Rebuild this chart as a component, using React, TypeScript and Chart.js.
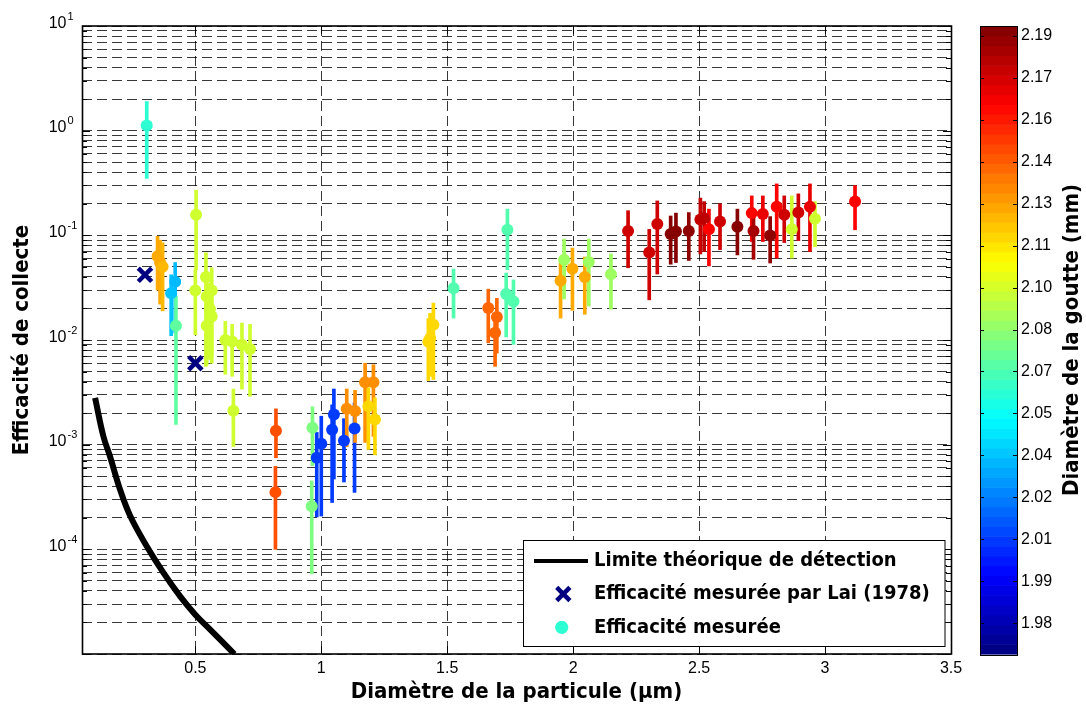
import React, { useEffect, useRef } from 'react';
import { Chart, registerables } from 'chart.js';

Chart.register(...registerables);

// ---------- data ----------
const ptX = [0.307, 0.350, 0.360, 0.370, 0.404, 0.420, 0.423, 0.503, 0.500, 0.542, 0.565, 0.545, 0.558, 0.565, 0.545, 0.619, 0.646, 0.685, 0.717, 0.651,
  0.820, 0.818, 0.965, 0.962, 0.982, 1.000, 1.043, 1.050, 1.090, 1.132, 1.101, 1.134, 1.174, 1.207, 1.187, 1.213,
  1.445, 1.432, 1.425, 1.525, 1.663, 1.697, 1.690, 1.739, 1.734, 1.763, 1.950, 1.997, 2.046, 1.964, 2.062, 2.150,
  2.218, 2.302, 2.334, 2.387, 2.408, 2.459, 2.505, 2.520, 2.539, 2.583, 2.652, 2.709, 2.716, 2.753, 2.782, 2.808,
  2.838, 2.868, 2.894, 2.940, 2.960, 3.119];
const ptY = [1.12, 0.063, 0.055, 0.050, 0.028, 0.036, 0.0137, 0.157, 0.0297, 0.040, 0.0297, 0.026, 0.0198, 0.0168, 0.0137, 0.0100, 0.0097, 0.0090, 0.0082, 0.00211,
  0.00136, 0.000352, 0.00145, 0.000258, 0.00075, 0.00102, 0.00139, 0.00194, 0.00109, 0.00143, 0.0022, 0.0021, 0.00394, 0.00394, 0.00233, 0.00174,
  0.0140, 0.0104, 0.0096, 0.0313, 0.0202, 0.0166, 0.0117, 0.113, 0.0275, 0.0233, 0.0368, 0.0479, 0.0399, 0.0584, 0.0555, 0.0425,
  0.110, 0.0686, 0.128, 0.103, 0.109, 0.110, 0.142, 0.146, 0.1146, 0.1355, 0.121, 0.163, 0.110, 0.160, 0.0995, 0.188,
  0.157, 0.1146, 0.165, 0.188, 0.144, 0.210];
const ptLo = [0.35, 0.030, 0.022, 0.019, 0.011, 0.0117, 0.00156, 0.047, 0.0112, 0.0056, 0.0070, 0.008, 0.0065, 0.006, 0.0058, 0.0047, 0.0045, 0.0034, 0.0029, 0.00096,
  0.00075, 0.0001, 0.00063, 0.0000585, 0.000204, 0.000208, 0.00028, 0.00047, 0.00044, 0.00035, 0.00096, 0.00105, 0.00105, 0.0012, 0.0009, 0.0008,
  0.0042, 0.0045, 0.0041, 0.0162, 0.0094, 0.0075, 0.0056, 0.047, 0.0107, 0.0091, 0.0162, 0.0192, 0.0176, 0.0246, 0.0211, 0.0197,
  0.049, 0.0242, 0.0427, 0.053, 0.055, 0.0575, 0.0664, 0.070, 0.051, 0.073, 0.065, 0.0873, 0.059, 0.0873, 0.0544, 0.0606,
  0.0853, 0.0606, 0.089, 0.070, 0.078, 0.113];
const ptHi = [1.9, 0.098, 0.090, 0.085, 0.042, 0.055, 0.026, 0.27, 0.047, 0.068, 0.049, 0.045, 0.035, 0.030, 0.022, 0.0151, 0.0141, 0.0145, 0.0141, 0.0034,
  0.0022, 0.00062, 0.0023, 0.00045, 0.00131, 0.00187, 0.0024, 0.0034, 0.00177, 0.0025, 0.0034, 0.0033, 0.0060, 0.0058, 0.0035, 0.0028,
  0.0225, 0.018, 0.016, 0.0476, 0.0306, 0.025, 0.018, 0.178, 0.0436, 0.0375, 0.0571, 0.0755, 0.062, 0.092, 0.092, 0.0665,
  0.172, 0.114, 0.213, 0.153, 0.163, 0.165, 0.227, 0.21, 0.178, 0.20, 0.178, 0.238, 0.163, 0.238, 0.151, 0.310,
  0.238, 0.238, 0.249, 0.310, 0.21, 0.299];
// droplet diameter (mm) of each measurement -> colour
const ptD = [2.063, 2.128, 2.128, 2.125, 2.040, 2.038, 2.074, 2.099, 2.099, 2.099, 2.099, 2.099, 2.099, 2.099, 2.099, 2.099, 2.099, 2.099, 2.099, 2.099,
  2.148, 2.148, 2.081, 2.081, 2.010, 2.010, 2.010, 2.010, 2.010, 2.010, 2.134, 2.134, 2.134, 2.134, 2.118, 2.118,
  2.118, 2.118, 2.118, 2.071, 2.143, 2.143, 2.143, 2.071, 2.071, 2.071, 2.128, 2.128, 2.128, 2.088, 2.088, 2.088,
  2.176, 2.176, 2.176, 2.192, 2.192, 2.190, 2.178, 2.180, 2.165, 2.176, 2.192, 2.165, 2.185, 2.170, 2.190, 2.165,
  2.176, 2.099, 2.176, 2.170, 2.099, 2.165];

const laiX = [0.30, 0.50];
const laiY = [0.042, 0.0060];

const limitX = [0.102, 0.135, 0.161, 0.201, 0.242, 0.307, 0.373, 0.439, 0.499, 0.558, 0.655];
const limitY = [2.8e-3, 1.2e-3, 7.75e-4, 3.73e-4, 2.07e-4, 1.07e-4, 5.98e-5, 3.57e-5, 2.39e-5, 1.72e-5, 1.0e-5];

const xTicks = [0.5, 1, 1.5, 2, 2.5, 3, 3.5];
const xTickLabels = ['0.5', '1', '1.5', '2', '2.5', '3', '3.5'];
const yDecades = [1e-5, 1e-4, 1e-3, 1e-2, 1e-1, 1];
const yMantissas = [1, 2, 3, 4, 5, 6, 7, 8, 9];
const yLabelValues = [10, 1, 0.1, 0.01, 0.001, 0.0001];
const yLabelExps = ['1', '0', '-1', '-2', '-3', '-4'];
const cbTicks = [1.98, 1.995, 2.01, 2.025, 2.04, 2.055, 2.07, 2.085, 2.10, 2.115, 2.13, 2.145, 2.16, 2.175, 2.19];
const cbLabels = ['1.98', '1.99', '2.01', '2.02', '2.04', '2.05', '2.07', '2.08', '2.10', '2.11', '2.13', '2.14', '2.16', '2.17', '2.19'];
const C_MIN = 1.969;
const C_MAX = 2.1935;

// ---------- helpers ----------
const yTickValues: number[] = [];
yDecades.forEach((d) => yMantissas.forEach((m) => yTickValues.push(m * d)));
yTickValues.push(10);

function jet(t: number): string {
  const c = (v: number) => Math.max(0, Math.min(1, v));
  const r = c(Math.min(4 * t - 1.5, -4 * t + 4.5));
  const g = c(Math.min(4 * t - 0.5, -4 * t + 3.5));
  const b = c(Math.min(4 * t + 0.5, -4 * t + 2.5));
  return `rgb(${Math.round(r * 255)},${Math.round(g * 255)},${Math.round(b * 255)})`;
}
const colorFor = (d: number) => jet((d - C_MIN) / (C_MAX - C_MIN));
const ptColors = ptD.map(colorFor);

const TICK_FONT = '"Liberation Sans", Arial, sans-serif';
const TITLE_FONT = '"DejaVu Sans Condensed", "DejaVu Sans", sans-serif';
const GRID = 'rgba(0,0,0,0.78)';
const DASH = [10, 5];

const isDecade = (v: number) => Math.abs(Math.log10(v) - Math.round(Math.log10(v))) < 1e-6;

const overlayPlugin = {
  id: 'overlay',
  afterDraw(chart: any) {
    const { ctx, chartArea: a, scales } = chart;
    const ys = scales.y;
    const xs = scales.x;
    const cs = scales.cb;
    const seg = (x1: number, y1: number, x2: number, y2: number) => {
      ctx.beginPath();
      ctx.moveTo(x1, y1);
      ctx.lineTo(x2, y2);
      ctx.stroke();
    };
    ctx.save();
    ctx.setLineDash([]);
    ctx.strokeStyle = '#000';
    ctx.lineWidth = 1;
    // inward tick marks
    yTickValues.forEach((v) => {
      const y = Math.round(ys.getPixelForValue(v)) + 0.5;
      const len = isDecade(v) ? 8 : 5;
      seg(a.left, y, a.left + len, y);
      seg(a.right - len, y, a.right, y);
    });
    xTicks.forEach((v) => {
      const x = Math.round(xs.getPixelForValue(v)) + 0.5;
      seg(x, a.bottom, x, a.bottom - 8);
      seg(x, a.top, x, a.top + 8);
    });
    // frame
    ctx.lineWidth = 1.6;
    ctx.strokeRect(a.left + 0.5, a.top, a.right - a.left, a.bottom - a.top);

    // y tick labels 10^n
    ctx.fillStyle = '#000';
    yLabelValues.forEach((v, i) => {
      const y = ys.getPixelForValue(v);
      ctx.font = `16px ${TICK_FONT}`;
      ctx.textAlign = 'right';
      ctx.textBaseline = 'alphabetic';
      ctx.fillText('10', 66.5, y + 1.5);
      ctx.font = `11px ${TICK_FONT}`;
      ctx.textAlign = 'left';
      ctx.fillText(yLabelExps[i], 67.5, y - 6.5);
    });

    // colour bar
    const cbL = 980;
    const cbR = 1017;
    const nb = 64;
    for (let i = 0; i < nb; i++) {
      const v0 = cs.min + (i * (cs.max - cs.min)) / nb;
      const v1 = cs.min + ((i + 1) * (cs.max - cs.min)) / nb;
      const yA = cs.getPixelForValue(v1);
      const yB = cs.getPixelForValue(v0);
      ctx.fillStyle = jet((i + 0.5) / nb);
      ctx.fillRect(cbL, yA, cbR - cbL, yB - yA + 0.6);
    }
    ctx.strokeStyle = '#000';
    ctx.lineWidth = 1;
    cbTicks.forEach((v) => {
      const y = Math.round(cs.getPixelForValue(v)) + 0.5;
      seg(cbL, y, cbL + 4, y);
      seg(cbR - 4, y, cbR, y);
    });
    ctx.strokeRect(cbL + 0.5, a.top + 0.5, cbR - cbL, a.bottom - a.top + 1);

    // colour bar title
    ctx.save();
    ctx.translate(1072, (a.top + a.bottom) / 2);
    ctx.rotate(-Math.PI / 2);
    ctx.fillStyle = '#000';
    ctx.font = `bold 22px ${TITLE_FONT}`;
    ctx.textAlign = 'center';
    ctx.textBaseline = 'middle';
    ctx.fillText('Diamètre de la goutte (mm)', 0, 0);
    ctx.restore();

    // legend
    const lx = 523.5;
    const ly = 540.5;
    const lw = 421.5;
    const lh = 106;
    ctx.fillStyle = '#fff';
    ctx.fillRect(lx, ly, lw, lh);
    ctx.strokeStyle = '#000';
    ctx.lineWidth = 1;
    ctx.strokeRect(lx, ly, lw, lh);
    const rows = [561, 594, 627.3];
    ctx.lineWidth = 4;
    seg(534, rows[0], 588, rows[0]);
    ctx.strokeStyle = '#000080';
    ctx.lineWidth = 4.5;
    seg(563.3 - 6.6, rows[1] - 6.6, 563.3 + 6.6, rows[1] + 6.6);
    seg(563.3 - 6.6, rows[1] + 6.6, 563.3 + 6.6, rows[1] - 6.6);
    ctx.fillStyle = ptColors[0];
    ctx.beginPath();
    ctx.arc(561.7, rows[2], 6.6, 0, Math.PI * 2);
    ctx.fill();
    ctx.fillStyle = '#000';
    ctx.font = `bold 20px ${TITLE_FONT}`;
    ctx.textAlign = 'left';
    ctx.textBaseline = 'middle';
    ctx.fillText('Limite théorique de détection', 594, rows[0]);
    ctx.fillText('Efficacité mesurée par Lai (1978)', 594, rows[1]);
    ctx.fillText('Efficacité mesurée', 594, rows[2]);
    ctx.restore();
  },
};

export default function App() {
  const ref = useRef<HTMLCanvasElement>(null);
  useEffect(() => {
    const canvas = ref.current;
    if (!canvas) return;
    const chart = new Chart(canvas, {
      type: 'scatter',
      data: {
        datasets: [
          {
            type: 'line',
            label: 'Limite théorique de détection',
            data: limitX.map((x, i) => ({ x, y: limitY[i] })),
            borderColor: '#000',
            backgroundColor: '#000',
            borderWidth: 6,
            pointRadius: 0,
            tension: 0.4,
            fill: false,
            clip: 0,
            order: 1,
          },
          {
            type: 'scatter',
            label: 'Efficacité mesurée par Lai (1978)',
            data: laiX.map((x, i) => ({ x, y: laiY[i] })),
            pointStyle: 'crossRot',
            pointRadius: 9.5,
            borderWidth: 4.5,
            borderColor: '#000080',
            backgroundColor: '#000080',
            order: 0,
          },
          {
            type: 'scatter',
            label: 'Efficacité mesurée',
            data: ptX.map((x, i) => ({ x, y: ptY[i] })),
            pointRadius: 6,
            pointBackgroundColor: ptColors,
            backgroundColor: ptColors,
            borderWidth: 0,
            order: 0,
          },
          {
            type: 'bar',
            label: 'Barres',
            data: ptX.map((x, i) => ({ x, y: [ptLo[i], ptHi[i]] })),
            backgroundColor: ptColors,
            borderWidth: 0,
            barThickness: 3,
            order: 2,
          },
        ] as any,
      },
      options: {
        responsive: false,
        animation: false,
        devicePixelRatio: 1,
        layout: { padding: { left: 0, right: 0, top: 26, bottom: 0 } },
        plugins: { legend: { display: false }, tooltip: { enabled: false } },
        scales: {
          x: {
            type: 'linear',
            min: 0.05,
            max: 3.5,
            offset: false,
            afterBuildTicks: (s: any) => {
              s.ticks = xTicks.map((v) => ({ value: v }));
            },
            afterFit: (s: any) => {
              s.height = 52;
            },
            ticks: {
              autoSkip: false,
              maxRotation: 0,
              padding: 5,
              color: '#000',
              font: { family: TICK_FONT, size: 16 },
              callback: (_v: any, i: number) => xTickLabels[i],
            },
            grid: { color: GRID, lineWidth: 1, drawTicks: false, offset: false, borderDash: DASH },
            border: { display: false, dash: DASH },
            title: {
              display: true,
              text: 'Diamètre de la particule (µm)',
              color: '#000',
              font: { family: TITLE_FONT, size: 22, weight: 'bold' },
              padding: { top: 0, bottom: 1 },
            },
          },
          y: {
            type: 'logarithmic',
            position: 'left',
            min: 1e-5,
            max: 10,
            afterBuildTicks: (s: any) => {
              s.ticks = yTickValues.map((v) => ({ value: v }));
            },
            afterFit: (s: any) => {
              s.width = 82;
            },
            ticks: { display: false },
            grid: { color: GRID, lineWidth: 1, drawTicks: false, borderDash: DASH },
            border: { display: false, dash: DASH },
            title: {
              display: true,
              text: 'Efficacité de collecte',
              color: '#000',
              font: { family: TITLE_FONT, size: 22, weight: 'bold' },
              padding: { top: 9, bottom: 0 },
            },
          },
          cb: {
            type: 'linear',
            position: 'right',
            min: C_MIN,
            max: C_MAX,
            afterBuildTicks: (s: any) => {
              s.ticks = cbTicks.map((v) => ({ value: v }));
            },
            afterFit: (s: any) => {
              s.width = 135;
            },
            ticks: {
              autoSkip: false,
              padding: 2,
              color: '#000',
              font: { family: TICK_FONT, size: 16 },
              callback: (_v: any, i: number) => cbLabels[i],
            },
            grid: {
              display: true,
              drawOnChartArea: false,
              drawTicks: true,
              tickLength: 68,
              tickColor: 'rgba(0,0,0,0)',
              color: 'rgba(0,0,0,0)',
            },
            border: { display: false },
          },
        },
      } as any,
      plugins: [overlayPlugin],
    });
    return () => chart.destroy();
  }, []);
  return (
    <div style={{ position: 'fixed', left: 0, top: 0, width: 1086, height: 706, background: '#fff' }}>
      <canvas ref={ref} width={1086} height={706} style={{ display: 'block', width: 1086, height: 706 }} />
    </div>
  );
}
